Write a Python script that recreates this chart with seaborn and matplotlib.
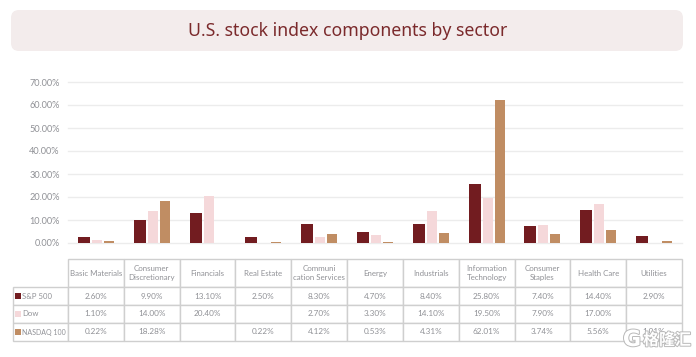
import seaborn as sns
import matplotlib.pyplot as plt
import matplotlib.patheffects as pe
from matplotlib.patches import FancyBboxPatch, Rectangle
import pandas as pd

W, H = 696, 357

sectors = ["Basic Materials", "Consumer\nDiscretionary", "Financials", "Real Estate",
           "Communi\ncation Services", "Energy", "Industrials", "Information\nTechnology",
           "Consumer\nStaples", "Health Care", "Utilities"]
indices = ["S&P 500", "Dow", "NASDAQ 100"]
colors = ["#721c20", "#f5d8da", "#c08d63"]

# bar heights
sp500 = [2.6, 9.9, 13.1, 2.5, 8.3, 4.7, 8.4, 25.8, 7.4, 14.4, 2.9]
dow = [1.1, 14.0, 20.4, 0, 2.7, 3.3, 14.1, 19.5, 7.9, 17.0, 0]
nasdaq = [0.9, 18.28, 0, 0.5, 4.12, 0.53, 4.31, 62.01, 3.74, 5.56, 1.01]

# table text as printed, it differs from the bars in places
sp500_txt = ["2.60%", "9.90%", "13.10%", "2.50%", "8.30%", "4.70%", "8.40%", "25.80%", "7.40%", "14.40%", "2.90%"]
dow_txt = ["1.10%", "14.00%", "20.40%", "", "2.70%", "3.30%", "14.10%", "19.50%", "7.90%", "17.00%", ""]
nasdaq_txt = ["0.22%", "18.28%", "", "0.22%", "4.12%", "0.53%", "4.31%", "62.01%", "3.74%", "5.56%", "1.01%"]

yticks = [0, 10, 20, 30, 40, 50, 60, 70]

TEXT = "#909196"
plt.rcParams['font.family'] = ['Lato', 'DejaVu Sans']
fig = plt.figure(figsize=(W / 100, H / 100), dpi=100)


def px_axes(x0, y0, x1, y1):
    return fig.add_axes([x0 / W, 1 - y1 / H, (x1 - x0) / W, (y1 - y0) / H])


# title box
bg = px_axes(0, 0, W, H)
bg.set_xlim(0, W)
bg.set_ylim(H, 0)
bg.axis('off')
bg.add_patch(FancyBboxPatch((11, 10), 672, 41, boxstyle="round,pad=0,rounding_size=8",
                            facecolor="#f3ecec", edgecolor="none"))
bg.text(347.5, 31, "U.S. stock index components by sector", ha='center', va='center',
        fontsize=12.7, color="#7b2a2c", family='Noto Sans')

# bars
df = pd.DataFrame({
    "sector": sectors * 3,
    "index": [i for i in indices for _ in sectors],
    "value": sp500 + dow + nasdaq,
})
ax = px_axes(68, 82, 682, 243)
sns.barplot(data=df, x="sector", y="value", hue="index", hue_order=indices, order=sectors,
            palette=colors, width=0.645, saturation=1, legend=False, ax=ax)
# lighter series are a bit narrower than the S&P bars, aligned to the right of their slot
n = len(sectors)
for container in ax.containers[1:]:
    for bar in container:
        w = bar.get_width()
        bar.set_x(bar.get_x() + w * 2 / 12)
        bar.set_width(w * 10 / 12)

ax.set_xlim(-0.5, n - 0.5)
ax.set_ylim(0, 70)
ax.set_yticks(yticks)
ax.set_yticklabels([f"{v:.2f}%" for v in yticks], fontsize=6.6, color=TEXT)
ax.set_xticks([])
ax.set_xlabel("")
ax.set_ylabel("")
ax.tick_params(axis='y', length=0, pad=6)
ax.grid(axis='y', color="#ececec", linewidth=1)
for line in ax.get_ygridlines():
    line.set_clip_on(False)
ax.set_axisbelow(True)
sns.despine(ax=ax, left=True, bottom=True)

# data table
tab_ax = px_axes(12.5, 259, 682, 341)
tab_ax.set_xlim(12.5, 682)
tab_ax.set_ylim(341, 259)
tab_ax.axis('off')
rows = [[""] + sectors,
        ["S&P 500"] + sp500_txt,
        ["Dow"] + dow_txt,
        ["NASDAQ 100"] + nasdaq_txt]
col_w = [55.5] + [55.8] * n
tbl = tab_ax.table(cellText=rows, colWidths=[c / 669.5 for c in col_w], bbox=[0, 0, 1, 1], cellLoc='center')
tbl.auto_set_font_size(False)
row_h = [28, 18, 18, 18]
for (r, c), cell in tbl.get_celld().items():
    cell.set_height(row_h[r] / 82)
    cell.set_edgecolor("#cfcfcf")
    cell.set_linewidth(1)
    cell.get_text().set_color(TEXT)
    cell.get_text().set_fontsize(5.9)
    if r == 0:
        cell.get_text().set_linespacing(1.2)
        cell.get_text().set_fontsize(5.7)
    if r == 0 and c == 0:
        cell.visible_edges = ""
    if r > 0 and c == 0:
        cell.PAD = 0.18
        # the long label has to stay inside its narrow column
        cell.get_text().set_fontsize(5.0 if r == 3 else 5.6)
        cell.get_text().set_horizontalalignment('left')

# legend swatches in the row header
for k, col in enumerate(colors):
    yc = 296 + 18 * k
    tab_ax.add_patch(Rectangle((15, yc - 3), 6, 6, facecolor=col, edgecolor="none", zorder=5))

# watermark
halo = [pe.withStroke(linewidth=1.4, foreground="#b9b9b9")]
bg2 = px_axes(0, 0, W, H)
bg2.set_xlim(0, W)
bg2.set_ylim(H, 0)
bg2.axis('off')
bg2.patch.set_alpha(0)
bg2.text(632, 340, "G", ha='center', va='center', fontsize=16, fontweight='bold', color="white",
         family='DejaVu Sans', path_effects=halo)
bg2.text(667, 340, "格隆汇", ha='center', va='center', fontsize=11.5, fontweight='bold', color="white",
         family=['Noto Sans CJK SC', 'DejaVu Sans'], path_effects=halo)

fig.savefig("out.png", dpi=100)
